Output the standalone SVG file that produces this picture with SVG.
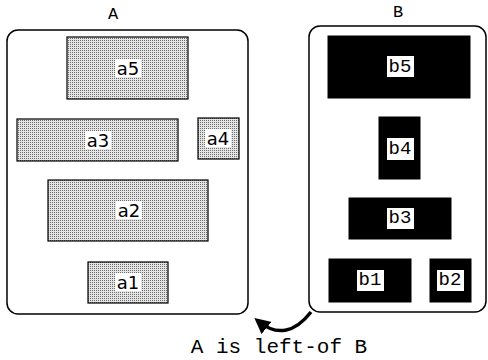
<svg xmlns="http://www.w3.org/2000/svg" width="488" height="360" viewBox="0 0 488 360">
<defs>
<pattern id="dots" width="2" height="2" patternUnits="userSpaceOnUse">
<rect width="2" height="2" fill="#e4e4e4"/>
<rect width="1" height="1" fill="#6e6e6e"/>
</pattern>
<marker id="ah" viewBox="0 0 10 10" refX="7" refY="5" markerWidth="4.5" markerHeight="4.5" orient="auto" markerUnits="strokeWidth">
<path d="M0,0 L10,5 L0,10 z" fill="#000"/>
</marker>
<style>
.cont{fill:#fff;stroke:#000;stroke-width:1.5}
.a{fill:url(#dots);stroke:#000;stroke-width:1.2}
.b{fill:#000;stroke:#000;stroke-width:1}
.lbg{fill:#fff}
.asl{font-family:"DejaVu Sans",sans-serif;font-size:18px;fill:#000;text-anchor:middle;dominant-baseline:central}
.bsl{font-family:"Liberation Mono",monospace;font-size:19px;fill:#000;text-anchor:middle;dominant-baseline:central}
.title{font-family:"Liberation Mono",monospace;font-size:17px;fill:#000;text-anchor:middle}
.cap{font-family:"Liberation Mono",monospace;font-size:21px;fill:#000;text-anchor:middle}
</style>
</defs>
<g id="A">
<text class="title" x="113" y="19">A</text>
<rect class="cont" x="7" y="30" width="241" height="284" rx="11"/>
</g>
<g id="a5"><rect class="a" x="67" y="37" width="121" height="62"/><rect class="lbg" x="115" y="59" width="26" height="18"/><text class="asl" x="128" y="68">a5</text></g>
<g id="a3"><rect class="a" x="17" y="119" width="161" height="42"/><rect class="lbg" x="85" y="131" width="26" height="18"/><text class="asl" x="98" y="140">a3</text></g>
<g id="a4"><rect class="a" x="198" y="118" width="41" height="41"/><rect class="lbg" x="205" y="129" width="26" height="18"/><text class="asl" x="218" y="138">a4</text></g>
<g id="a2"><rect class="a" x="48" y="180" width="160" height="61"/><rect class="lbg" x="116" y="201" width="26" height="18"/><text class="asl" x="129" y="210">a2</text></g>
<g id="a1"><rect class="a" x="88" y="262" width="80" height="41"/><rect class="lbg" x="115" y="273" width="26" height="18"/><text class="asl" x="128" y="282">a1</text></g>
<g id="B">
<text class="title" x="398" y="17">B</text>
<rect class="cont" x="309" y="26" width="177" height="286" rx="11"/>
</g>
<g id="b5"><rect class="b" x="328" y="36" width="142" height="62"/><rect class="lbg" x="387" y="56" width="27" height="21"/><text class="bsl" x="400" y="67">b5</text></g>
<g id="b4"><rect class="b" x="379" y="117" width="41" height="62"/><rect class="lbg" x="387" y="138" width="27" height="22"/><text class="bsl" x="400" y="149">b4</text></g>
<g id="b3"><rect class="b" x="349" y="198" width="102" height="41"/><rect class="lbg" x="387" y="208" width="27" height="21"/><text class="bsl" x="400" y="218">b3</text></g>
<g id="b1"><rect class="b" x="329" y="259" width="82" height="43"/><rect class="lbg" x="357" y="270" width="27" height="21"/><text class="bsl" x="370" y="280">b1</text></g>
<g id="b2"><rect class="b" x="430" y="259" width="41" height="43"/><rect class="lbg" x="437" y="270" width="27" height="21"/><text class="bsl" x="450" y="280">b2</text></g>
<g id="connectors">
<path d="M 311 312 Q 286 344 258 321" fill="none" stroke="#000" stroke-width="3.5" marker-end="url(#ah)"/>
</g>
<text class="cap" x="279" y="353">A is left-of B</text>
</svg>
